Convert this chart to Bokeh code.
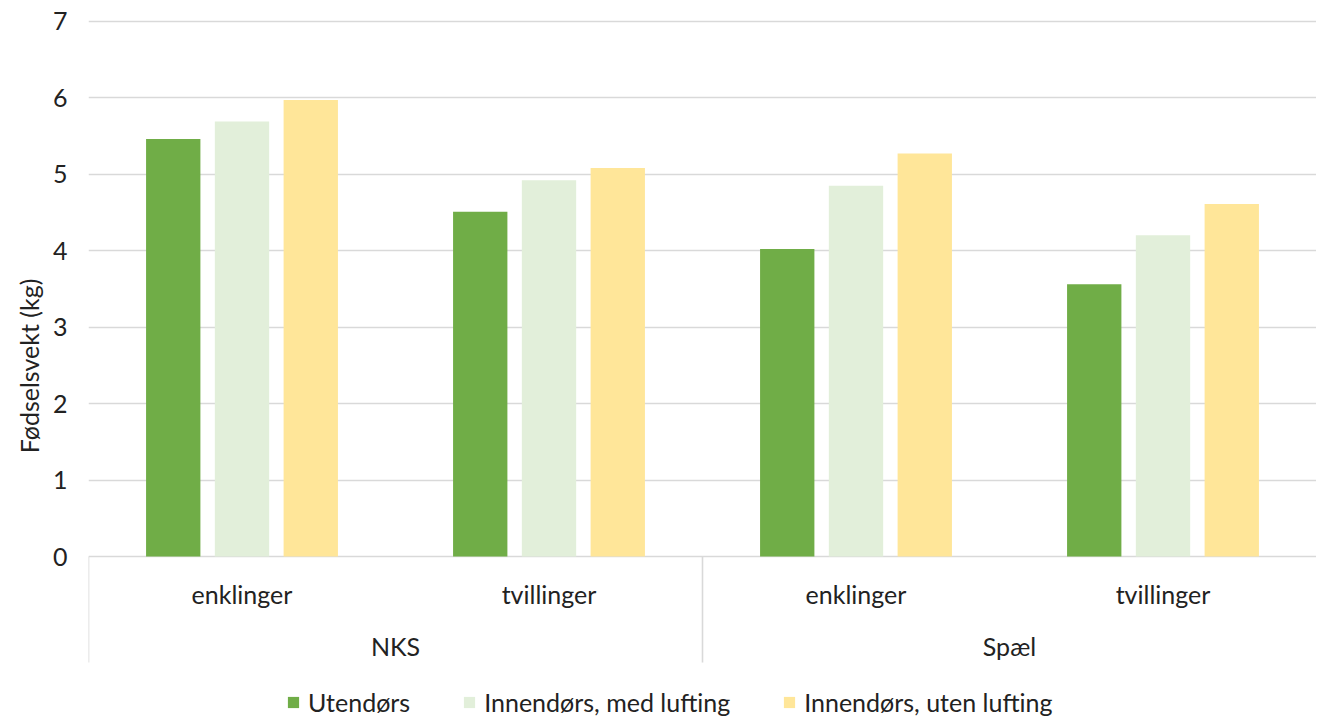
from bokeh.plotting import figure
from bokeh.models import (FactorRange, Range1d, ColumnDataSource, FixedTicker,
                          Legend, LegendItem)
from bokeh.transform import dodge
from bokeh.core.properties import value
from bokeh.embed import file_html
from bokeh.resources import INLINE

# ---- data ----
groups = ["NKS", "Spæl"]
subgroups = ["enklinger", "tvillinger"]
series_names = ["Utendørs", "Innendørs, med lufting", "Innendørs, uten lufting"]
utendors = [5.46, 4.51, 4.02, 3.56]
innendors_med = [5.69, 4.92, 4.85, 4.20]
innendors_uten = [5.97, 5.08, 5.27, 4.61]
y_ticks = [0, 1, 2, 3, 4, 5, 6, 7]
y_label = "Fødselsvekt (kg)"

colors = ["#70AD47", "#E2EFDA", "#FFE699"]
FONT = "Lato"
FS = "25px"
TXT = "#222222"
GRID = "#d9d9d9"

factors = [(g, s) for g in groups for s in subgroups]
source = ColumnDataSource(dict(x=factors, u=utendors, m=innendors_med, n=innendors_uten,
                               sub=[f[1] for f in factors]))

x_range = FactorRange(factors=factors, range_padding=0, group_padding=0, factor_padding=0)
y_range = Range1d(-2.105, 7.088)

p = figure(x_range=x_range, y_range=y_range, width=1316, height=717,
           output_backend="svg", toolbar_location=None, x_axis_location=None,
           min_border_left=88, min_border_right=0, min_border_top=14, min_border_bottom=0)
p.outline_line_color = None

# y axis
p.yaxis.ticker = FixedTicker(ticks=y_ticks)
p.yaxis.bounds = (0, 7)
p.yaxis.axis_line_color = None
p.yaxis.major_tick_line_color = None
p.yaxis.major_tick_out = 0
p.yaxis.major_tick_in = 0
p.yaxis.minor_tick_line_color = None
p.yaxis.major_label_standoff = 21
p.yaxis.major_label_text_font = FONT
p.yaxis.major_label_text_font_size = FS
p.yaxis.major_label_text_color = TXT
p.yaxis.axis_label = y_label
p.yaxis.axis_label_text_font = FONT
p.yaxis.axis_label_text_font_size = FS
p.yaxis.axis_label_text_font_style = "normal"
p.yaxis.axis_label_text_color = TXT
p.yaxis.axis_label_standoff = 6

p.xgrid.grid_line_color = None
p.ygrid.grid_line_color = GRID
p.ygrid.grid_line_width = 1.6

# bars
offsets = [-0.224, 0.0, 0.224]
cols = ["u", "m", "n"]
renderers = []
for off, col, c in zip(offsets, cols, colors):
    r = p.vbar(x=dodge("x", off, range=x_range), top=col, bottom=0, width=0.177,
               source=source, fill_color=c, line_color=None)
    renderers.append(r)

# category separators (left edge and between the two groups)
sep_src = ColumnDataSource(dict(x=[factors[0], factors[2]]))
p.segment(x0=dodge("x", -0.5, range=x_range), y0=0,
          x1=dodge("x", -0.5, range=x_range), y1=-1.386,
          source=sep_src, line_color=GRID, line_width=1.6)

# category labels
p.text(x="x", y=0, text="sub", source=source, y_offset=37,
       text_font=value(FONT), text_font_size=FS, text_color=TXT,
       text_align="center", text_baseline="middle")
grp_src = ColumnDataSource(dict(x=groups, t=groups))
p.text(x="x", y=0, text="t", source=grp_src, y_offset=89,
       text_font=value(FONT), text_font_size=FS, text_color=TXT,
       text_align="center", text_baseline="middle")

legend = Legend(items=[LegendItem(label=n, renderers=[r]) for n, r in zip(series_names, renderers)],
                orientation="horizontal", location=(198, 0),
                glyph_width=14, glyph_height=14, label_height=14, label_standoff=8,
                spacing=52, padding=0, margin=0,
                label_text_font=FONT, label_text_font_size=FS, label_text_color=TXT,
                border_line_color=None, background_fill_alpha=0)
p.add_layout(legend, "center")

open("out.html", "w").write(file_html(p, INLINE))
